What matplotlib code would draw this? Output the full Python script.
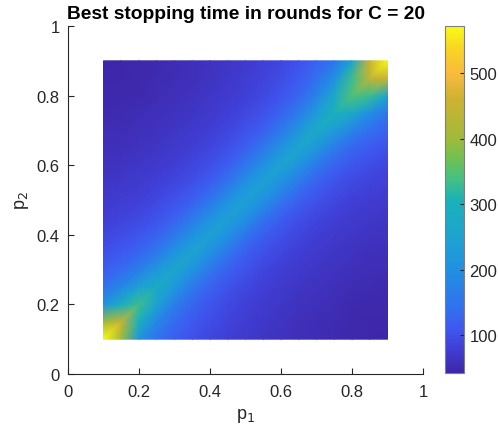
import numpy as np
import matplotlib
matplotlib.use("Agg")
import matplotlib.pyplot as plt
import matplotlib.tri as mtri
from matplotlib.colors import LinearSegmentedColormap, Normalize

plt.rcParams['font.family'] = ['Liberation Sans', 'DejaVu Sans']

# grid of probabilities (both axes)
p_grid = [0.10, 0.15, 0.20, 0.25, 0.30, 0.35, 0.40, 0.45, 0.50,
          0.55, 0.60, 0.65, 0.70, 0.75, 0.80, 0.85, 0.90]

# stopping time values read along diagonals p2 - p1 = m*0.05 (symmetric in p1<->p2)
band_0 = [570, 450, 330, 280, 258, 248, 240, 238, 238, 240, 247, 257, 274, 298, 345, 440, 572]
band_1 = [400, 290, 242, 222, 212, 206, 204, 204, 205, 207, 211, 218, 232, 268, 330, 460]
band_2 = [210, 185, 170, 160, 156, 154, 153, 153, 154, 156, 159, 166, 178, 200, 255]
band_3 = [148, 135, 127, 123, 121, 120, 120, 120, 121, 122, 125, 131, 141, 153]
band_4 = [120, 112, 107, 104, 103, 102, 102, 102, 103, 104, 107, 114, 124]
band_5 = [101, 96, 92, 90, 89, 89, 89, 89, 90, 92, 96, 103]
band_6 = [88, 84, 81, 80, 79, 79, 79, 80, 81, 84, 89]
band_7 = [79, 76, 74, 73, 72, 72, 73, 74, 76, 80]
band_8 = [72, 69, 67, 66, 66, 66, 67, 69, 72]
band_9 = [66, 63, 62, 61, 61, 62, 63, 66]
band_10 = [61, 58, 57, 57, 57, 58, 61]
band_11 = [57, 54, 53, 53, 54, 57]
band_12 = [53, 51, 50, 51, 53]
band_13 = [50, 48, 48, 50]
band_14 = [47, 46, 47]
band_15 = [45, 45]
band_16 = [43]
bands = [band_0, band_1, band_2, band_3, band_4, band_5, band_6, band_7, band_8,
         band_9, band_10, band_11, band_12, band_13, band_14, band_15, band_16]

cbar_ticks = [100, 200, 300, 400, 500]
axis_ticks = [0, 0.2, 0.4, 0.6, 0.8, 1]
axis_ticklabels = ['0', '0.2', '0.4', '0.6', '0.8', '1']
c_min, c_max = 42, 572

# assemble matrix Z[p2_index, p1_index]
n = len(p_grid)
Z = np.zeros((n, n))
for m, vals in enumerate(bands):
    for k, v in enumerate(vals):
        Z[k + m, k] = v
        Z[k, k + m] = v

# parula-like colormap
anchors = [
    (0.000, (62, 38, 168)),
    (0.072, (64, 64, 216)),
    (0.128, (62, 88, 240)),
    (0.185, (50, 112, 240)),
    (0.298, (32, 144, 226)),
    (0.383, (30, 162, 210)),
    (0.498, (24, 178, 184)),
    (0.562, (72, 192, 130)),
    (0.619, (112, 192, 82)),
    (0.675, (160, 186, 58)),
    (0.789, (205, 178, 50)),
    (0.864, (250, 186, 62)),
    (0.930, (248, 210, 36)),
    (1.000, (249, 250, 20)),
]
parula = LinearSegmentedColormap.from_list(
    'parula', [(t, tuple(c / 255 for c in col)) for t, col in anchors], N=256)
norm = Normalize(vmin=c_min, vmax=c_max)

PX, PY = np.meshgrid(p_grid, p_grid)
tris = []
for j in range(n - 1):
    for i in range(n - 1):
        a = j * n + i
        b = j * n + i + 1
        c = (j + 1) * n + i + 1
        d = (j + 1) * n + i
        tris.append([a, b, c])
        tris.append([a, c, d])
triang = mtri.Triangulation(PX.ravel(), PY.ravel(), np.array(tris))

W, H = 498, 439
fig = plt.figure(figsize=(W / 100, H / 100), dpi=100)
ax = fig.add_axes([68 / W, (H - 375) / H, 355 / W, 348 / H])
cax = fig.add_axes([445 / W, (H - 374) / H, 19 / W, 347 / H])

tc = ax.tripcolor(triang, Z.ravel(), shading='gouraud', cmap=parula,
                  norm=norm, zorder=2)

dark = '#262626'
ax.set_xlim(0, 1)
ax.set_ylim(0, 1)
ax.set_xticks(axis_ticks)
ax.set_xticklabels(axis_ticklabels)
ax.set_yticks(axis_ticks)
ax.set_yticklabels(axis_ticklabels)
for s in ['top', 'right']:
    ax.spines[s].set_visible(False)
for s in ['left', 'bottom']:
    ax.spines[s].set_color(dark)
    ax.spines[s].set_linewidth(0.8)
ax.tick_params(axis='x', direction='in', length=4, width=0.8, colors=dark,
               labelsize=12, pad=7.5)
ax.tick_params(axis='y', direction='in', length=4, width=0.8, colors=dark,
               labelsize=12, pad=6)
ax.set_xlabel('p$_1$', fontsize=13, color=dark, labelpad=5)
ax.set_ylabel('p$_2$', fontsize=13, color=dark, labelpad=4)
ax.set_title('Best stopping time in rounds for C = 20', fontsize=13.8,
             fontweight='bold', color='black', pad=6)

cb = fig.colorbar(tc, cax=cax, ticks=cbar_ticks)
cb.outline.set_edgecolor('#7f7f7f')
cb.outline.set_linewidth(0.8)
cax.tick_params(direction='in', length=3, width=0.8, colors=dark,
                labelsize=12, pad=4)

fig.savefig('out.png', dpi=100)
